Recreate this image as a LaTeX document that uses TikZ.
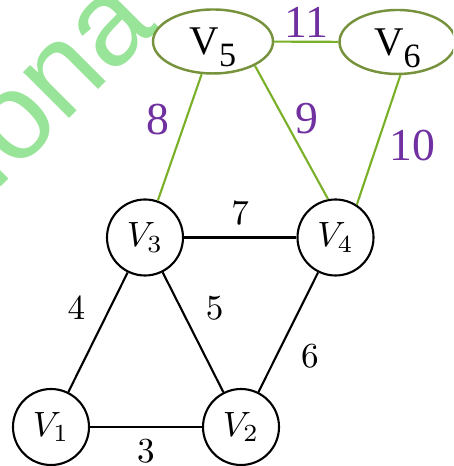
\documentclass[tikz,border=0pt]{standalone}
\usepackage{fontspec}
\usetikzlibrary{shapes.geometric}
\newfontfamily\timesfont{Liberation Serif}
\newfontfamily\markfont{Liberation Sans}
\definecolor{ringgreen}{RGB}{118,146,60}
\definecolor{edgegreen}{RGB}{122,176,40}
\definecolor{labelpurple}{RGB}{112,48,160}
\definecolor{markgreen}{RGB}{152,228,152}
\newcommand\topv[1]{V\raisebox{-3.4pt}{\fontsize{9.7}{10}\selectfont #1}}
\begin{document}
\begin{tikzpicture}[line width=.6pt,
  vertex/.style={circle,draw,fill=white,minimum size=7.6mm,inner sep=0pt},
  topvertex/.style={ellipse,draw=ringgreen,line width=.7pt,minimum width=12mm,minimum height=6.4mm,
    inner sep=0pt,text depth=0pt,font=\timesfont\fontsize{11.6}{12}\selectfont},
  link/.style={draw=edgegreen},
  weight/.style={text=labelpurple,inner sep=1pt,font=\timesfont\fontsize{13}{14}\selectfont}]
  \useasboundingbox (0,0) rectangle (4.53,-4.66);
  \clip (0,0) rectangle (4.53,-4.66);
  \node[text=markgreen,font=\markfont\fontsize{35}{35}\selectfont,rotate=45,anchor=base] (mark) at (.78,-1.1) {iona};
  \node[vertex] (v1) at (.51,-4.27) {$V_1$};
  \node[vertex] (v2) at (2.41,-4.27) {$V_2$};
  \node[vertex] (v3) at (1.45,-2.375) {$V_3$};
  \node[vertex] (v4) at (3.355,-2.375) {$V_4$};
  \node[topvertex] (v5) at (2.13,-.415) {\topv{5}};
  \node[topvertex,minimum width=11.6mm] (v6) at (3.975,-.42) {\topv{6}};
  \draw (v1)--node[below] {$3$}(v2);
  \draw (v1)--node[above left] {$4$}(v3);
  \draw (v3)--node[above right] {$5$}(v2);
  \draw (v2)--node[below right] {$6$}(v4);
  \draw (v3)--node[above] {$7$}(v4);
  \draw[link] (v5)--node[weight,pos=.36,left=3.5pt] {8}(v3);
  \draw[link] (v5.-30)--node[weight,pos=.4,right=2pt] {9}(v4.101);
  \draw[link] (v6.-85)--node[weight,pos=.54,right=2.3pt] {10}(v4.57);
  \draw[link] (v5)--node[weight,above] {11}(v6);
\end{tikzpicture}
\end{document}
